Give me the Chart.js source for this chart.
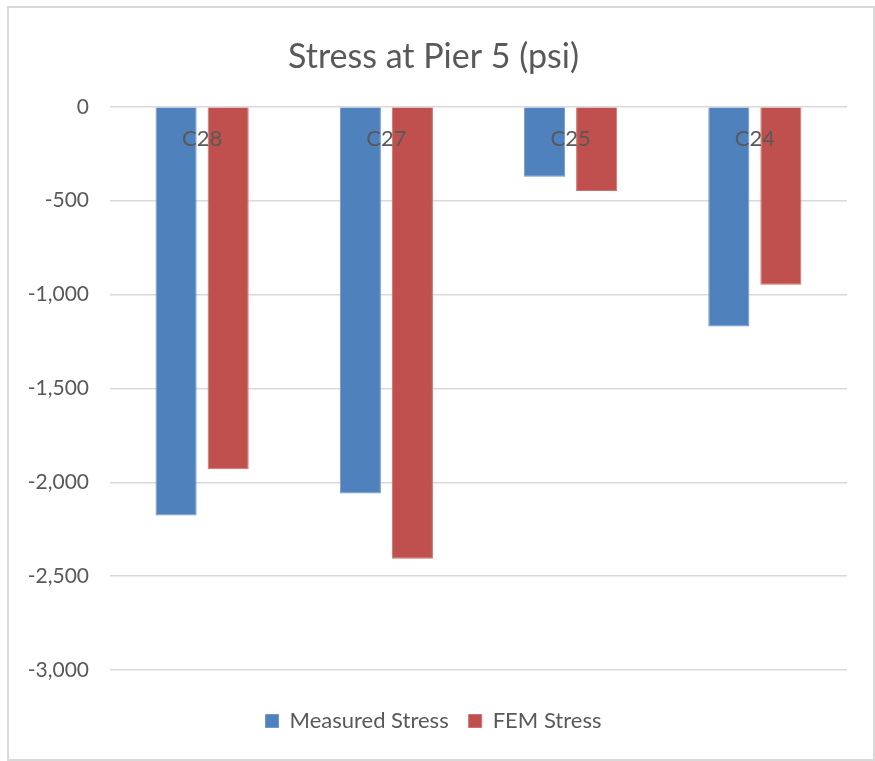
<!DOCTYPE html>
<html lang="en">
  <head>
    <meta charset="UTF-8" />
    <title>Stress at Pier 5 (psi)</title>
    <style>
      body {
        margin: 0;
        background: white;
        font-family: Lato, sans-serif;
      }
      .frame {
        position: absolute;
        left: 7px;
        top: 6px;
        width: 864px;
        height: 751px;
        border: 2px solid #d9d9d9;
      }
      .chart-box {
        position: absolute;
        left: 0;
        top: 0;
        width: 875px;
        height: 761px;
      }
    </style>
  </head>
  <body>
    <div class="frame"></div>
    <div class="chart-box">
      <canvas id="stressChart"></canvas>
    </div>

    <script src="https://cdn.jsdelivr.net/npm/chart.js"></script>
    <script>
      // Girders at pier 5
      const girders = ["C28", "C27", "C25", "C24"];

      // Stress values (psi)
      const measuredStress = [-2177, -2060, -372, -1170];
      const femStress = [-1931, -2408, -448, -948];

      const textColor = "#595959";

      // Excel-style category labels written just under the zero line
      const categoryLabels = {
        id: "categoryLabels",
        afterDatasetsDraw(chart) {
          const ctx = chart.ctx;
          const xScale = chart.scales.x;
          ctx.save();
          ctx.font = "22px Lato";
          ctx.fillStyle = textColor;
          ctx.textAlign = "center";
          ctx.textBaseline = "middle";
          girders.forEach((name, i) => {
            ctx.fillText(name, xScale.getPixelForValue(i), chart.chartArea.top + 32);
          });
          ctx.restore();
        },
      };

      new Chart(document.getElementById("stressChart"), {
        type: "bar",
        data: {
          labels: girders,
          datasets: [
            {
              label: "Measured Stress",
              data: measuredStress,
              backgroundColor: "#4f81bd",
              borderColor: "#6f97cb",
              borderWidth: 1,
            },
            {
              label: "FEM Stress",
              data: femStress,
              backgroundColor: "#c0504d",
              borderColor: "#cf706d",
              borderWidth: 1,
            },
          ],
        },
        options: {
          responsive: true,
          maintainAspectRatio: false,
          animation: false,
          categoryPercentage: 0.565,
          barPercentage: 0.79,
          layout: {
            padding: { top: 37, left: 20, right: 28, bottom: 19 },
          },
          plugins: {
            title: {
              display: true,
              text: "Stress at Pier 5 (psi)",
              color: textColor,
              font: { family: "Lato", size: 34, weight: "normal" },
              padding: { top: 0, bottom: 29 },
            },
            legend: {
              position: "bottom",
              labels: {
                color: textColor,
                font: { family: "Lato", size: 22 },
                boxWidth: 13,
                boxHeight: 13,
                padding: 20,
              },
            },
            tooltip: { enabled: false },
          },
          scales: {
            x: {
              // kept only as empty space above the legend; labels come from the plugin
              grid: { display: false, drawTicks: false },
              border: { display: false },
              ticks: { display: false },
              afterFit: (axis) => {
                axis.height = 20;
              },
            },
            y: {
              min: -3000,
              max: 0,
              border: { display: false },
              grid: { color: "#d9d9d9", lineWidth: 1.5, drawTicks: false },
              ticks: {
                stepSize: 500,
                color: textColor,
                font: { family: "Lato", size: 21 },
                padding: 21,
                callback: (v) => v.toLocaleString("en-US"),
              },
              afterFit: (axis) => {
                axis.width = 90;
              },
            },
          },
        },
        plugins: [categoryLabels],
      });
    </script>
  </body>
</html>
